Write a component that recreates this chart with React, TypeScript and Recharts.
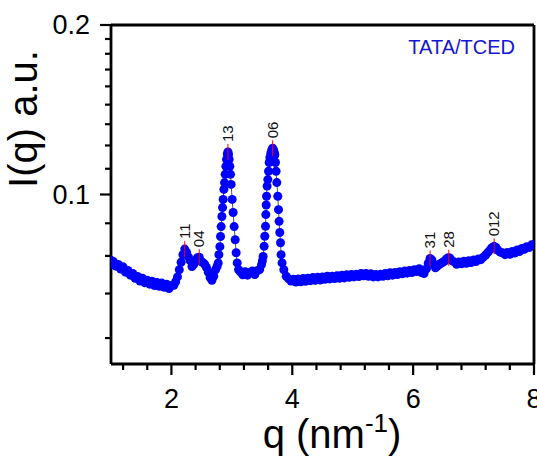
import React from "react";
import {
  ComposedChart,
  Line,
  Scatter,
  XAxis,
  YAxis,
  ReferenceLine,
} from "recharts";

// q (nm^-1) and intensity
const Q = [
  1.0, 1.02, 1.04, 1.08, 1.12, 1.16, 1.2, 1.24, 1.28, 1.32, 1.36, 1.4, 1.44, 1.48, 1.52, 1.56, 1.6, 1.64, 1.68, 1.72,
  1.76, 1.8, 1.84, 1.88, 1.92, 1.96, 2.0, 2.04, 2.07, 2.1, 2.13, 2.16, 2.19, 2.22, 2.25, 2.28, 2.31, 2.34, 2.37, 2.4,
  2.43, 2.46, 2.49, 2.52, 2.55, 2.58, 2.61, 2.64, 2.67, 2.7, 2.73, 2.755,
  2.774, 2.785, 2.802, 2.813, 2.823, 2.835, 2.846, 2.856, 2.868, 2.879, 2.889, 2.901, 2.912, 2.925, 2.935, 2.945,
  2.955, 2.967, 2.978, 2.988, 3.005, 3.021, 3.038, 3.055, 3.071, 3.088, 3.111,
  3.14, 3.18, 3.22, 3.26, 3.3, 3.34, 3.38, 3.42, 3.46, 3.49, 3.505,
  3.517, 3.534, 3.545, 3.557, 3.562, 3.568, 3.574, 3.583, 3.595, 3.607, 3.617, 3.63, 3.645, 3.66, 3.675, 3.69,
  3.703, 3.711, 3.722, 3.732, 3.744, 3.76, 3.772, 3.782, 3.793, 3.805, 3.815, 3.831, 3.86, 3.9, 3.94, 3.98,
  4.02, 4.06, 4.1, 4.14, 4.18, 4.22, 4.26, 4.3, 4.34, 4.38, 4.42, 4.46, 4.5, 4.54, 4.58, 4.62, 4.66, 4.7, 4.74, 4.78,
  4.82, 4.86, 4.9, 4.94, 4.98, 5.02, 5.06, 5.1, 5.14, 5.18, 5.22, 5.26, 5.3, 5.34, 5.38, 5.42, 5.46, 5.5, 5.54, 5.58,
  5.62, 5.66, 5.7, 5.74, 5.78, 5.82, 5.86, 5.9, 5.94, 5.98, 6.02, 6.06, 6.1, 6.14, 6.18, 6.22, 6.25, 6.28, 6.31, 6.34,
  6.37, 6.4, 6.43, 6.46, 6.49, 6.52, 6.55, 6.58, 6.61, 6.64, 6.68, 6.72, 6.76, 6.8, 6.84, 6.88, 6.92, 6.96, 7.0, 7.04,
  7.08, 7.12, 7.16, 7.2, 7.24, 7.28, 7.31, 7.34, 7.37, 7.4, 7.44, 7.48, 7.52, 7.56, 7.6, 7.64, 7.68, 7.72, 7.76, 7.8,
  7.84, 7.88, 7.92, 7.96, 8.0,
];

const INTENSITY = [
  0.0764, 0.0752, 0.0760, 0.0746, 0.0751, 0.0737, 0.0744, 0.0728, 0.0733, 0.0719, 0.0724, 0.0710, 0.0715, 0.0702, 0.0710, 0.0697, 0.0704, 0.0693, 0.0701, 0.0689,
  0.0698, 0.0687, 0.0696, 0.0684, 0.0693, 0.0681, 0.0689, 0.0690, 0.0700, 0.0714, 0.0735, 0.0758, 0.0782, 0.0800, 0.0790, 0.0775, 0.0763, 0.0745, 0.0752, 0.0764,
  0.0772, 0.0774, 0.0760, 0.0757, 0.0752, 0.0742, 0.0728, 0.0712, 0.0704, 0.0716, 0.0735, 0.0745,
  0.0756, 0.0782, 0.0808, 0.0842, 0.0877, 0.0914, 0.0948, 0.0980, 0.1021, 0.1050, 0.1086, 0.1122, 0.1154, 0.1180, 0.1190, 0.1178,
  0.1154, 0.1122, 0.1086, 0.1042, 0.0980, 0.0929, 0.0877, 0.0831, 0.0788, 0.0756, 0.0735,
  0.0729, 0.0720, 0.0729, 0.0719, 0.0728, 0.0731, 0.0721, 0.0732, 0.0736, 0.0750, 0.0762,
  0.0776, 0.0809, 0.0843, 0.0878, 0.0921, 0.0958, 0.0993, 0.1035, 0.1063, 0.1100, 0.1140, 0.1165, 0.1185, 0.1200, 0.1208, 0.1200,
  0.1188, 0.1175, 0.1140, 0.1100, 0.1050, 0.0993, 0.0940, 0.0896, 0.0856, 0.0821, 0.0782, 0.0756, 0.0735, 0.0716, 0.0708, 0.0702,
  0.0707, 0.0699, 0.0708, 0.0700, 0.0709, 0.0701, 0.0710, 0.0703, 0.0712, 0.0704, 0.0713, 0.0705, 0.0714, 0.0707, 0.0716, 0.0708, 0.0716, 0.0709, 0.0717, 0.0710,
  0.0719, 0.0711, 0.0720, 0.0713, 0.0721, 0.0714, 0.0722, 0.0715, 0.0724, 0.0717, 0.0724, 0.0716, 0.0723, 0.0714, 0.0721, 0.0714, 0.0722, 0.0716, 0.0724, 0.0717,
  0.0726, 0.0719, 0.0727, 0.0721, 0.0729, 0.0723, 0.0731, 0.0725, 0.0733, 0.0727, 0.0735, 0.0730, 0.0738, 0.0727, 0.0724, 0.0738, 0.0755, 0.0770, 0.0765, 0.0752,
  0.0741, 0.0746, 0.0751, 0.0755, 0.0758, 0.0762, 0.0768, 0.0772, 0.0771, 0.0763, 0.0759, 0.0752, 0.0759, 0.0753, 0.0761, 0.0755, 0.0763, 0.0757, 0.0765, 0.0760,
  0.0768, 0.0766, 0.0774, 0.0781, 0.0790, 0.0799, 0.0805, 0.0809, 0.0805, 0.0797, 0.0790, 0.0788, 0.0782, 0.0789, 0.0783, 0.0792, 0.0787, 0.0797, 0.0792, 0.0802,
  0.0799, 0.0808, 0.0805, 0.0814, 0.0815,
];

// indexed reflections
const PEAK_LABELS = ["11", "04", "13", "06", "31", "28", "012"];
const PEAK_Q = [2.22, 2.46, 2.935, 3.675, 6.28, 6.59, 7.34];
const PEAK_I = [0.08, 0.0774, 0.119, 0.1208, 0.077, 0.0772, 0.0809];

const X_TICKS = [1.2, 1.6, 2, 2.4, 2.8, 3.2, 3.6, 4, 4.4, 4.8, 5.2, 5.6, 6, 6.4, 6.8, 7.2, 7.6, 8];
const Y_TICKS = [
  0.0556, 0.0667, 0.0778, 0.0889, 0.1, 0.1111, 0.1222, 0.1333, 0.1444, 0.1556, 0.1667, 0.1778, 0.1889, 0.2,
];
const Y_MAJOR = [0.1, 0.2];

const FONT = '"Liberation Sans", Arial, sans-serif';

const series = Q.map((q, i) => ({ q, I: INTENSITY[i] }));
const peaks = PEAK_Q.map((q, i) => ({ q, I: PEAK_I[i], label: PEAK_LABELS[i] }));

function XTick({ x, y, payload }: any) {
  const v = payload.value;
  const major = Math.abs(v - Math.round(v)) < 1e-6 && Math.round(v) % 2 === 0;
  return (
    <g>
      <line x1={x} x2={x} y1={y} y2={y + (major ? 11 : 6)} stroke="#000" strokeWidth={2.2} />
      {major && (
        <text x={x} y={y + 44} textAnchor="middle" fontSize={27} fontFamily={FONT} fill="#000">
          {Math.round(v)}
        </text>
      )}
    </g>
  );
}

function YTick({ x, y, payload }: any) {
  const v = payload.value;
  const major = Y_MAJOR.some((m) => Math.abs(m - v) < 1e-6);
  return (
    <g>
      <line x1={x - (major ? 11 : 6)} x2={x} y1={y} y2={y} stroke="#000" strokeWidth={2.2} />
      {major && (
        <text x={x - 21} y={y + 9} textAnchor="end" fontSize={27} fontFamily={FONT} fill="#000">
          {v.toFixed(1)}
        </text>
      )}
    </g>
  );
}

function PeakMark({ cx, cy, payload }: any) {
  const tx = cx + 5;
  const ty = cy - 10;
  return (
    <g>
      <line x1={cx} x2={cx} y1={cy - 8} y2={cy + 8} stroke="#ff0000" strokeWidth={1} />
      <text
        x={tx}
        y={ty}
        transform={`rotate(-90 ${tx} ${ty})`}
        fontSize={15}
        fontFamily={FONT}
        fill="#111"
      >
        {payload.label}
      </text>
    </g>
  );
}

export default function App() {
  return (
    <div style={{ position: "absolute", left: 0, top: 0, width: 537, height: 456, background: "#fff" }}>
      <ComposedChart width={537} height={456} data={series} margin={{ top: 25, right: 3, bottom: 32, left: 0 }}>
        <XAxis
          type="number"
          dataKey="q"
          domain={[1, 8]}
          ticks={X_TICKS}
          interval={0}
          allowDataOverflow
          height={60}
          tickSize={0}
          tickMargin={0}
          tickLine={false}
          axisLine={{ stroke: "#000", strokeWidth: 2.8 }}
          tick={<XTick />}
        />
        <YAxis
          type="number"
          dataKey="I"
          scale="log"
          domain={[0.05, 0.2]}
          ticks={Y_TICKS}
          interval={0}
          allowDataOverflow
          width={111}
          tickSize={0}
          tickMargin={0}
          tickLine={false}
          axisLine={{ stroke: "#000", strokeWidth: 2.8 }}
          tick={<YTick />}
        />
        <ReferenceLine y={0.2} stroke="#000" strokeWidth={2.8} />
        <ReferenceLine x={8} stroke="#000" strokeWidth={2.8} />
        <Line
          dataKey="I"
          type="linear"
          stroke="#555"
          strokeWidth={1}
          dot={{ r: 4.5, fill: "#0000ff", stroke: "none" }}
          activeDot={false}
          isAnimationActive={false}
        />
        <Scatter data={peaks} dataKey="I" shape={<PeakMark />} isAnimationActive={false} />
      </ComposedChart>
      <svg
        width={537}
        height={456}
        style={{ position: "absolute", left: 0, top: 0, pointerEvents: "none" }}
      >
        <text
          x={37}
          y={119}
          transform="rotate(-90 37 119)"
          textAnchor="middle"
          fontSize={40}
          fontFamily={FONT}
          fill="#000"
        >
          I(q) a.u.
        </text>
        <text x={332} y={448} textAnchor="middle" fontSize={40} fontFamily={FONT} fill="#000">
          q (nm
          <tspan fontSize={26} dy={-16}>-1</tspan>
          <tspan dy={16}>)</tspan>
        </text>
        <text x={515} y={54} textAnchor="end" fontSize={20} fontFamily={FONT} fill="#1414d2">
          TATA/TCED
        </text>
      </svg>
    </div>
  );
}
